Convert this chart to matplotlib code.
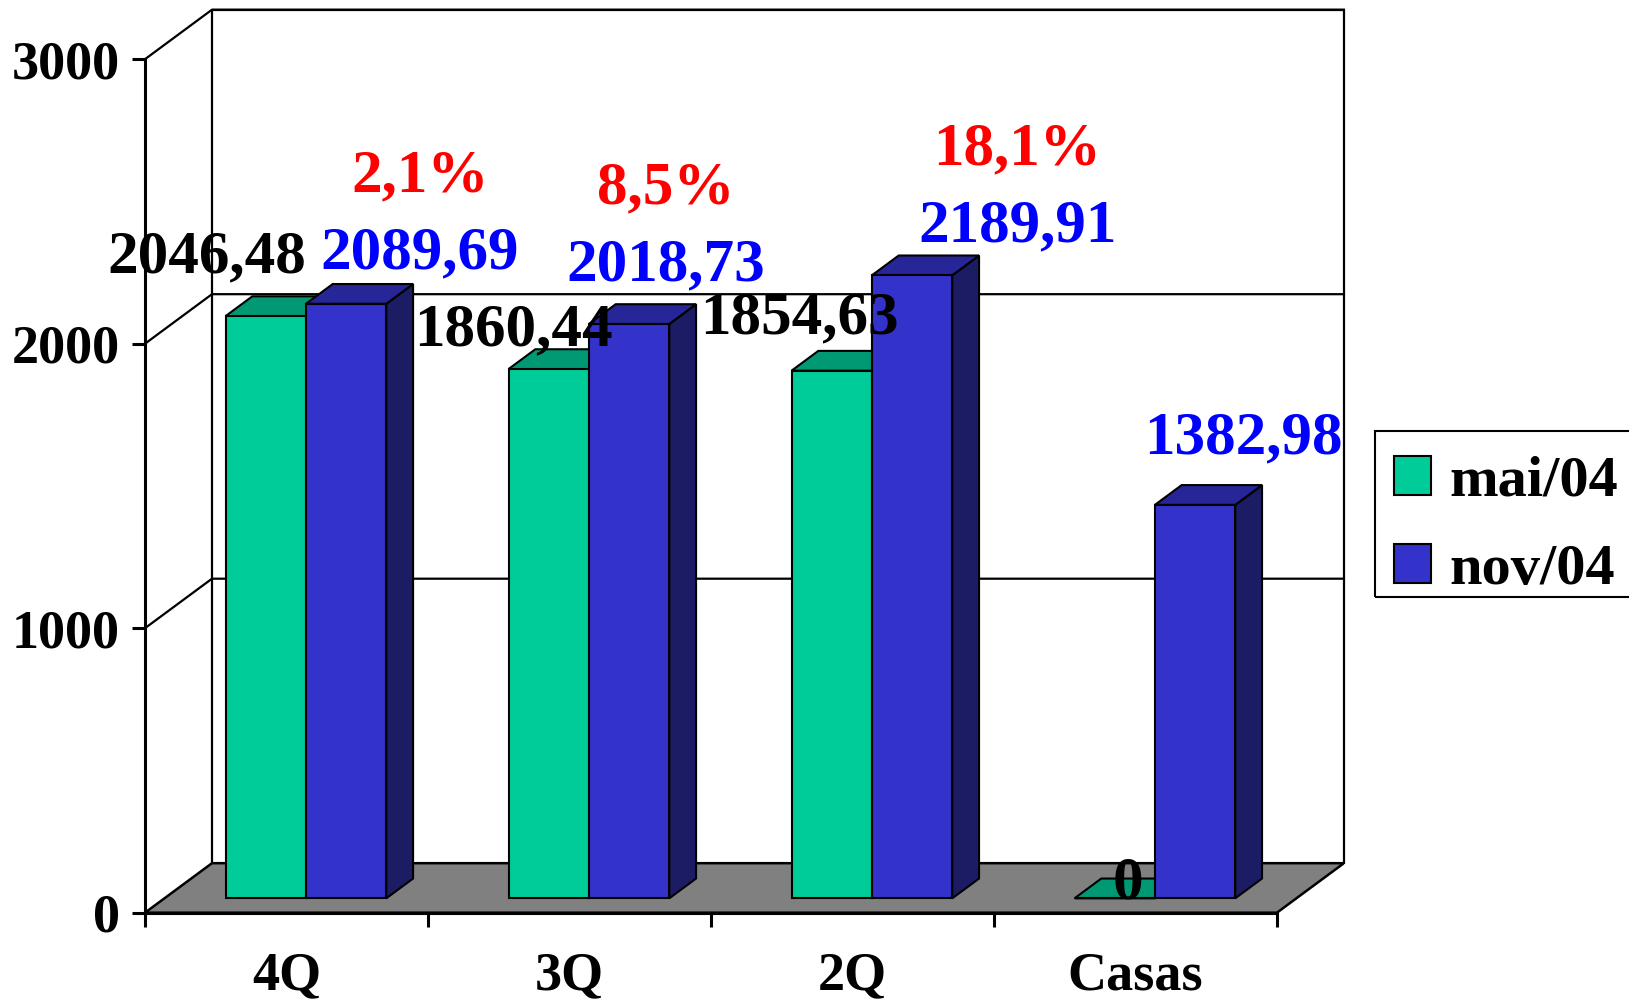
import numpy as np
import matplotlib.pyplot as plt
from matplotlib.patches import Polygon, Patch, Rectangle

# Valores por categoria
categorias = ['4Q', '3Q', '2Q', 'Casas']
mai04 = [2046.48, 1860.44, 1854.63, 0]
nov04 = [2089.69, 2018.73, 2189.91, 1382.98]
series = ['mai/04', 'nov/04']

# deslocamento dos rótulos (pixels) a partir do topo de cada barra
desloc_mai = [(-59, 44), (-35, 24), (-32, 37), (13, 0)]
desloc_nov = [(74, 35), (37, 44), (105, 34), (48, 51)]

# profundidade da caixa 3D em unidades de categoria / valor
prof_x = 0.2367
prof_y = 174
f0, f1 = 0.29, 0.69   # frente e fundo das barras dentro da profundidade
larg = 0.284
inicio = 0.216

cor_frente = ['#00CC99', '#3333CC']
cor_topo = ['#009973', '#262699']
cor_lado = ['#007355', '#1C1C64']
cor_rotulo = ['black', 'blue']

plt.rcParams['font.family'] = 'Liberation Serif'
plt.rcParams['font.weight'] = 'bold'

fig = plt.figure(figsize=(16.29, 9.99), dpi=100)
ax = fig.add_axes([0.08901, 0.08639, 0.73599, 0.90391])
n = len(categorias)
ax.set_xlim(0, n + prof_x)
ax.set_ylim(0, 3000 + prof_y)

# chão cinza
ax.add_patch(Polygon([(0, 0), (n, 0), (n + prof_x, prof_y), (prof_x, prof_y)],
                     closed=True, facecolor='#808080', edgecolor='black',
                     lw=1.8, zorder=2))

# parede do fundo e linhas de grade
ax.plot([prof_x, prof_x, n + prof_x, n + prof_x],
        [prof_y, 3000 + prof_y, 3000 + prof_y, prof_y],
        color='black', lw=1.6, zorder=1, clip_on=False)
for v in [1000, 2000, 3000]:
    ax.plot([0, prof_x, n + prof_x], [v, v + prof_y, v + prof_y],
            color='black', lw=1.6, zorder=1, clip_on=False)

# barras 3D: lado, topo e frente
for s, vals in enumerate([mai04, nov04]):
    x0 = np.arange(n) + inicio + s * larg
    for x, v in zip(x0, vals):
        xa, xb = x + f0 * prof_x, x + larg + f0 * prof_x
        xc, xd = x + f1 * prof_x, x + larg + f1 * prof_x
        ya, yb = f0 * prof_y, f1 * prof_y
        if v > 0:
            ax.add_patch(Polygon([(xb, ya), (xd, yb), (xd, v + yb), (xb, v + ya)],
                                 closed=True, facecolor=cor_lado[s],
                                 edgecolor='black', lw=1.5, zorder=3 + s))
        ax.add_patch(Polygon([(xa, v + ya), (xb, v + ya), (xd, v + yb), (xc, v + yb)],
                             closed=True, facecolor=cor_topo[s],
                             edgecolor='black', lw=1.5, zorder=3 + s))
    ax.bar(x0 + f0 * prof_x, vals, larg, bottom=f0 * prof_y, align='edge',
           color=cor_frente[s], edgecolor='black', lw=1.5, zorder=3 + s)


def rotulo(v):
    return f'{v:.2f}'.replace('.', ',') if v else '0'


for s, (vals, desl) in enumerate(zip([mai04, nov04], [desloc_mai, desloc_nov])):
    for i, v in enumerate(vals):
        xc = i + inicio + s * larg + larg / 2 + f0 * prof_x
        ax.annotate(rotulo(v), (xc, v + f0 * prof_y), xytext=desl[i],
                    textcoords='offset pixels', ha='center', va='baseline',
                    fontsize=44, color=cor_rotulo[s], zorder=10,
                    annotation_clip=False)

# variação percentual entre mai/04 e nov/04
for i, (a, b) in enumerate(zip(mai04, nov04)):
    if a <= 0:
        continue
    pct = f'{(b / a - 1) * 100:.1f}%'.replace('.', ',')
    xc = i + inicio + larg + larg / 2 + f0 * prof_x
    dx, dy = desloc_nov[i]
    ax.annotate(pct, (xc, b + f0 * prof_y), xytext=(dx, dy + 77),
                textcoords='offset pixels', ha='center', va='baseline',
                fontsize=44, color='red', zorder=10, annotation_clip=False)

# eixos
ax.spines[['top', 'right']].set_visible(False)
ax.spines['left'].set_bounds(0, 3000)
ax.spines['bottom'].set_bounds(0, n)
for sp in ['left', 'bottom']:
    ax.spines[sp].set_linewidth(2.2)
    ax.spines[sp].set_zorder(2.5)
ax.set_yticks([0, 1000, 2000, 3000])
ax.tick_params(axis='y', length=9.4, width=2.2, pad=8.6, labelsize=39)
ax.set_xticks(range(n + 1))
ax.set_xticklabels([])
ax.set_xticks(np.arange(n) + 0.5, minor=True)
ax.set_xticklabels(categorias, minor=True)
ax.tick_params(axis='x', which='major', length=10, width=2.2)
ax.tick_params(axis='x', which='minor', length=0, pad=28, labelsize=39)

# legenda com moldura própria
handles = [Patch(facecolor=c, edgecolor='black', lw=1.5) for c in cor_frente]
fig.legend(handles, series, loc='upper left', bbox_to_anchor=(0.8439, 0.5629),
           bbox_transform=fig.transFigure, borderaxespad=0, borderpad=0.33,
           handlelength=0.64, handleheight=0.64, handletextpad=0.31,
           labelspacing=0.62, fontsize=42, frameon=False)
fig.add_artist(Rectangle((0.8439, 0.4024), 0.17, 0.1665, transform=fig.transFigure,
                         fill=False, edgecolor='black', lw=1.5))

fig.savefig('out.png', dpi=100)
